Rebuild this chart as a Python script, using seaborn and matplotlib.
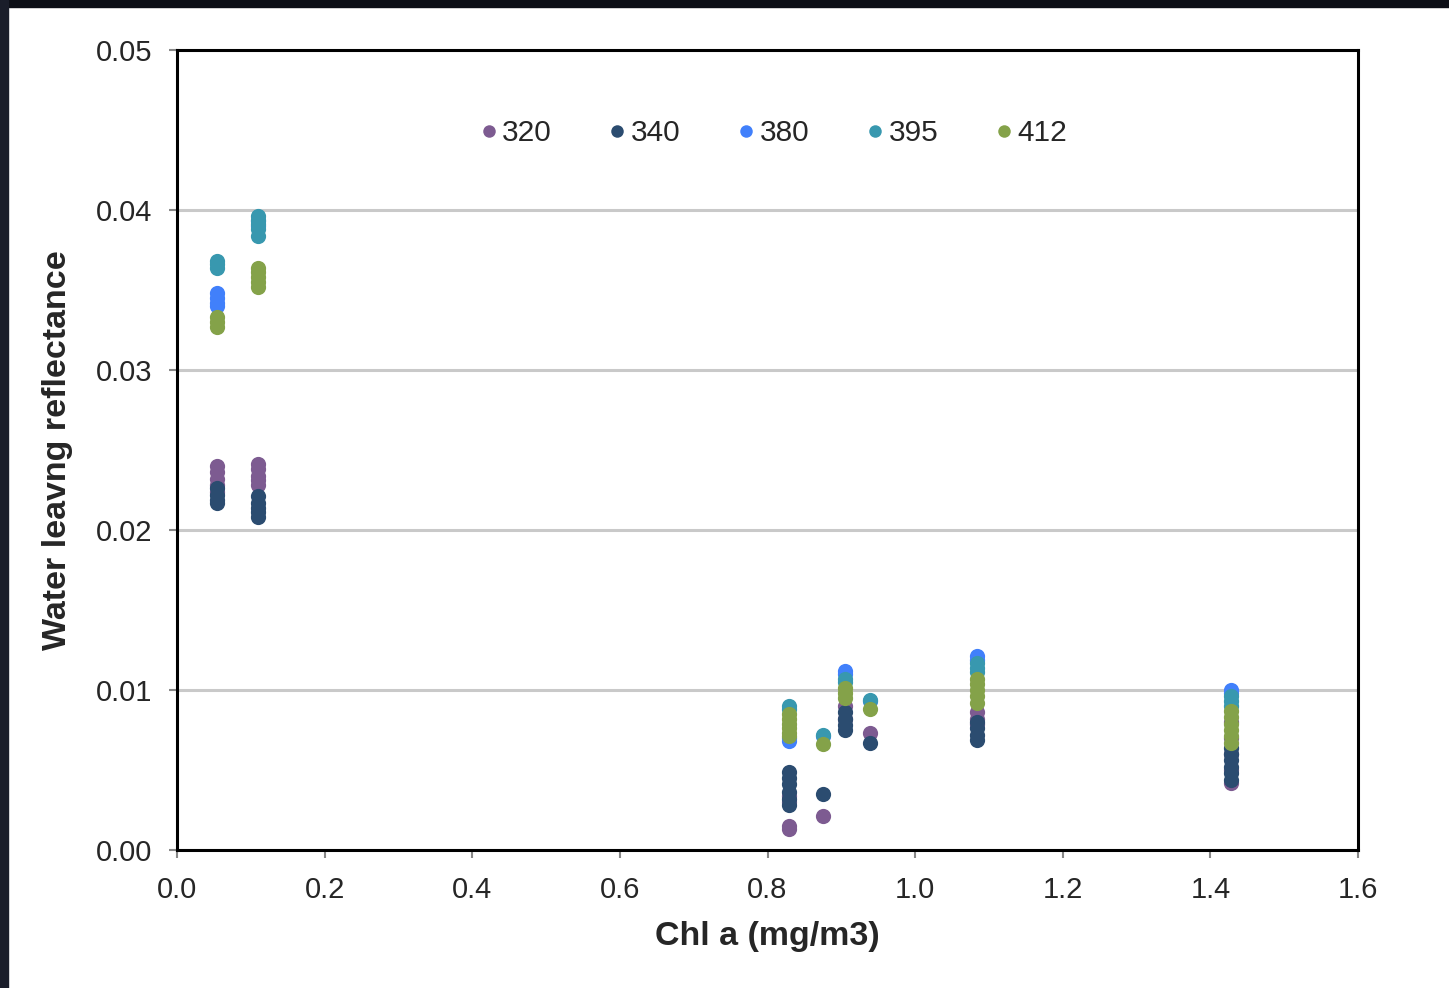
import numpy as np
import pandas as pd
import matplotlib
matplotlib.use("Agg")
import matplotlib.pyplot as plt
from matplotlib.lines import Line2D
from matplotlib.patches import Rectangle
import seaborn as sns

# wavelengths (nm) and their colours
wavelengths = ["320", "340", "380", "395", "412"]
colors = ["#7D5B91", "#2B4C70", "#4180FB", "#3898AF", "#84A249"]

# Chl a positions of the stations (mg/m3)
chl = [0.054, 0.110, 0.829, 0.875, 0.905, 0.939, 1.084, 1.428]

# reflectance readings per wavelength, grouped by station index
r320 = {0: [0.0240, 0.0236, 0.0232, 0.0228, 0.0224],
        1: [0.0241, 0.0238, 0.0234, 0.0231, 0.0228],
        2: [0.0034, 0.0030, 0.0015, 0.0013],
        3: [0.0021],
        4: [0.0090, 0.0082],
        5: [0.0073],
        6: [0.0086, 0.0082, 0.0079],
        7: [0.0080, 0.0070, 0.0060, 0.0050, 0.0042]}
r340 = {0: [0.0226, 0.0222, 0.0219, 0.0217],
        1: [0.0221, 0.0217, 0.0214, 0.0211, 0.0208],
        2: [0.0049, 0.0045, 0.0041, 0.0036, 0.0032, 0.0028],
        3: [0.0035],
        4: [0.0086, 0.0082, 0.0078, 0.0075],
        5: [0.0067],
        6: [0.0080, 0.0076, 0.0072, 0.0069],
        7: [0.0064, 0.0060, 0.0056, 0.0052, 0.0048, 0.0044]}
r380 = {0: [0.0348, 0.0345, 0.0342, 0.0340],
        1: [0.0393, 0.0390],
        2: [0.0070, 0.0068],
        3: [0.0071],
        4: [0.0112, 0.0110],
        5: [0.0093],
        6: [0.0121, 0.0119],
        7: [0.0100, 0.0098]}
r395 = {0: [0.0368, 0.0366, 0.0364],
        1: [0.0396, 0.0394, 0.0391, 0.0388, 0.0384],
        2: [0.0090, 0.0088],
        3: [0.0072],
        4: [0.0107, 0.0105],
        5: [0.0094],
        6: [0.0117, 0.0114, 0.0111],
        7: [0.0096, 0.0093, 0.0090]}
r412 = {0: [0.0333, 0.0330, 0.0327],
        1: [0.0364, 0.0361, 0.0358, 0.0355, 0.0352],
        2: [0.0085, 0.0082, 0.0079, 0.0076, 0.0073, 0.0071],
        3: [0.0066],
        4: [0.0101, 0.0098, 0.0095],
        5: [0.0088],
        6: [0.0107, 0.0104, 0.0100, 0.0096, 0.0092],
        7: [0.0087, 0.0083, 0.0079, 0.0075, 0.0071, 0.0067]}

rows = []
for wl, series in zip(wavelengths, [r320, r340, r380, r395, r412]):
    for i, vals in series.items():
        for v in vals:
            rows.append((chl[i], v, wl))
df = pd.DataFrame(rows, columns=["chl", "refl", "wl"])

sns.set_style("white")
plt.rcParams["font.family"] = ["Liberation Sans", "DejaVu Sans"]

fig = plt.figure(figsize=(14.49, 9.88), dpi=100)
ax = fig.add_axes([0.1222, 0.1397, 0.815, 0.8097])

for wl, c in zip(wavelengths, colors):
    sns.scatterplot(data=df[df.wl == wl], x="chl", y="refl", color=c,
                    s=120, linewidth=0, ax=ax, legend=False, zorder=3)

ax.set_xlim(0, 1.6)
ax.set_ylim(0, 0.05)
ax.set_xticks(np.arange(0, 1.61, 0.2))
ax.set_yticks(np.arange(0, 0.051, 0.01))
ax.set_xticklabels([f"{t:.1f}" for t in np.arange(0, 1.61, 0.2)])
ax.set_yticklabels([f"{t:.2f}" for t in np.arange(0, 0.051, 0.01)])
ax.yaxis.grid(True, color="#C9C9C9", linewidth=2.2)
ax.set_axisbelow(True)
for sp in ax.spines.values():
    sp.set_visible(True)
    sp.set_color("black")
    sp.set_linewidth(2.2)
ax.tick_params(axis="both", direction="out", length=6, width=1.5,
               color="#888888", labelsize=21)
ax.tick_params(axis="x", bottom=True, pad=13)
ax.tick_params(axis="y", left=True, pad=12)

ax.set_xlabel("Chl a (mg/m3)", fontsize=24.5, fontweight="bold", labelpad=12)
ax.set_ylabel("Water leavng reflectance", fontsize=24.5, fontweight="bold", labelpad=16)

handles = [Line2D([], [], marker="o", linestyle="", color=c, markersize=9,
                  markeredgewidth=0) for c in colors]
ax.legend(handles, wavelengths, loc="center", bbox_to_anchor=(0.5055, 0.896),
          ncol=5, frameon=False, fontsize=21.5, handlelength=0.5,
          handletextpad=0.2, columnspacing=1.95)

# dark screen frame at top and left
fig.patches.append(Rectangle((0, 1 - 7 / 988), 1, 7 / 988, transform=fig.transFigure,
                             color="#0C0E16", zorder=10))
fig.patches.append(Rectangle((0, 0), 8 / 1449, 1, transform=fig.transFigure,
                             color="#1A1D2A", zorder=10))

fig.savefig("out.png", dpi=100)
